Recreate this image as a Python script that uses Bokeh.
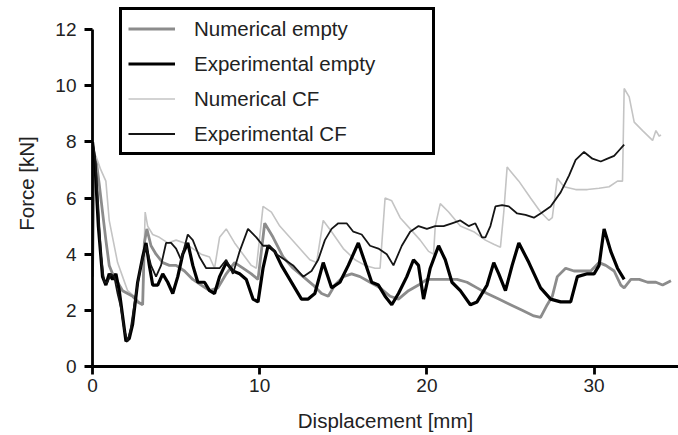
from bokeh.plotting import figure
from bokeh.models import Range1d, Legend, LegendItem, FixedTicker
from bokeh.embed import file_html
from bokeh.resources import INLINE

# Numerical empty (gray)
num_empty_x = [0.0, 0.1, 0.25, 0.4, 0.6, 0.8, 1.0, 1.2, 1.5, 1.8, 2.1, 2.4, 2.7, 3.0, 3.1, 3.25, 3.5, 3.8, 4.2, 4.6, 5.0, 5.5, 6.0, 6.5, 7.0, 7.5, 8.0, 8.5, 9.0, 9.5, 9.9, 10.3, 10.8, 11.4, 12.0, 12.6, 13.2, 13.7, 14.1, 14.5, 15.0, 15.5, 16.0, 16.6, 17.2, 17.8, 18.3, 18.9, 19.5, 20.0, 20.6, 21.2, 21.8, 22.4, 23.0, 23.6, 24.3, 25.0, 25.7, 26.4, 26.8, 27.2, 27.5, 27.8, 28.3, 28.8, 29.3, 29.8, 30.3, 30.7, 31.2, 31.6, 31.8, 32.2, 32.7, 33.2, 33.7, 34.1, 34.6]
num_empty_y = [3.2, 7.4, 7.2, 6.5, 5.5, 4.5, 3.6, 3.3, 3.0, 2.7, 2.6, 2.5, 2.3, 2.2, 4.4, 4.9, 4.3, 4.0, 3.7, 3.6, 3.6, 3.4, 3.1, 2.9, 2.7, 2.8, 3.3, 3.7, 3.5, 3.3, 3.1, 5.1, 4.6, 3.9, 3.5, 3.2, 2.9, 2.6, 2.5, 2.9, 3.2, 3.3, 3.2, 3.0, 2.8, 2.5, 2.4, 2.7, 2.9, 3.1, 3.1, 3.1, 3.1, 3.0, 2.8, 2.6, 2.4, 2.2, 2.0, 1.8, 1.75, 2.2, 2.5, 3.2, 3.5, 3.4, 3.4, 3.4, 3.7, 3.6, 3.4, 2.9, 2.8, 3.1, 3.1, 3.0, 3.0, 2.9, 3.05]

# Experimental empty (thick black)
exp_empty_x = [0.0, 0.15, 0.35, 0.6, 0.8, 1.0, 1.2, 1.4, 1.6, 1.8, 2.0, 2.2, 2.4, 2.7, 3.0, 3.2, 3.4, 3.6, 3.9, 4.2, 4.5, 4.8, 5.1, 5.4, 5.7, 6.0, 6.3, 6.7, 7.0, 7.3, 7.6, 8.0, 8.4, 8.8, 9.2, 9.6, 9.9, 10.2, 10.5, 10.9, 11.3, 11.7, 12.1, 12.5, 12.9, 13.3, 13.8, 14.3, 14.8, 15.3, 15.9, 16.3, 16.7, 17.1, 17.5, 17.9, 18.3, 18.8, 19.2, 19.5, 19.8, 20.2, 20.7, 21.1, 21.5, 22.0, 22.6, 23.0, 23.6, 24.0, 24.3, 24.7, 25.1, 25.5, 26.1, 26.8, 27.4, 28.0, 28.6, 29.0, 29.6, 30.0, 30.3, 30.6, 31.0, 31.4, 31.8]
exp_empty_y = [8.0, 7.2, 5.0, 3.2, 2.9, 3.3, 3.1, 3.3, 2.7, 1.8, 0.9, 1.0, 1.5, 3.0, 3.9, 4.4, 3.6, 2.9, 2.9, 3.3, 3.0, 2.6, 3.2, 4.0, 4.4, 3.6, 3.0, 3.0, 2.7, 2.6, 3.2, 3.7, 3.4, 3.3, 3.1, 2.4, 2.3, 3.5, 4.3, 4.1, 3.6, 3.2, 2.8, 2.4, 2.4, 2.6, 3.7, 2.8, 3.0, 3.6, 4.4, 3.7, 3.0, 2.9, 2.5, 2.2, 2.6, 3.2, 3.8, 3.6, 2.4, 3.5, 4.3, 3.8, 3.0, 2.7, 2.2, 2.3, 2.9, 3.7, 3.3, 2.7, 3.6, 4.4, 3.7, 2.8, 2.4, 2.3, 2.3, 3.2, 3.3, 3.3, 3.6, 4.9, 4.1, 3.5, 3.1]

# Numerical CF (light gray)
num_cf_x = [0.0, 0.05, 0.2, 0.5, 0.8, 1.0, 1.2, 1.5, 1.8, 2.1, 2.5, 2.8, 3.0, 3.15, 3.3, 3.6, 4.0, 4.5, 5.0, 5.5, 6.0, 6.5, 7.0, 7.3, 7.6, 8.0, 8.5, 9.0, 9.5, 9.8, 10.2, 10.7, 11.2, 11.8, 12.4, 13.0, 13.4, 13.8, 14.3, 15.0, 15.7, 16.3, 16.9, 17.2, 17.5, 17.9, 18.4, 19.0, 19.6, 20.1, 20.4, 20.5, 20.8, 21.3, 22.0, 22.8, 23.5, 24.0, 24.4, 24.6, 24.8, 25.5, 26.2, 26.8, 27.3, 27.5, 27.8, 28.2, 28.9, 29.6, 30.3, 30.9, 31.4, 31.7, 31.8, 32.1, 32.4, 32.9, 33.5, 33.7, 33.9, 34.0]
num_cf_y = [3.2, 7.0, 7.5, 7.0, 6.6, 5.2, 4.6, 3.7, 3.2, 2.7, 2.5, 2.3, 2.2, 5.5, 5.0, 4.7, 4.6, 4.4, 4.5, 4.4, 4.2, 4.0, 3.9, 3.5, 4.6, 4.9, 4.4, 4.0, 3.6, 3.5, 5.7, 5.5, 5.0, 4.6, 4.2, 3.8, 3.7, 5.2, 4.8, 4.2, 3.8, 3.6, 3.5, 3.5, 6.0, 5.9, 5.3, 4.9, 4.5, 4.1, 4.0, 5.0, 5.8, 5.5, 5.0, 4.8, 4.5, 4.35, 4.25, 5.5, 7.1, 6.6, 6.0, 5.5, 5.2, 5.3, 6.7, 6.4, 6.3, 6.3, 6.35, 6.4, 6.6, 6.6, 9.9, 9.6, 8.7, 8.4, 8.05, 8.4, 8.2, 8.25]

# Experimental CF (thin black)
exp_cf_x = [0.0, 0.15, 0.3, 0.5, 0.7, 0.9, 1.1, 1.3, 1.5, 1.7, 1.9, 2.1, 2.3, 2.6, 2.9, 3.2, 3.5, 3.8, 4.1, 4.4, 4.7, 5.0, 5.3, 5.7, 6.0, 6.4, 6.8, 7.2, 7.6, 8.0, 8.4, 8.8, 9.3, 9.8, 10.2, 10.6, 11.0, 11.5, 12.0, 12.6, 13.1, 13.5, 13.9, 14.3, 14.7, 15.2, 15.6, 16.1, 16.6, 17.1, 17.6, 18.0, 18.5, 19.0, 19.5, 20.0, 20.5, 21.0, 21.5, 22.0, 22.5, 22.9, 23.3, 23.5, 23.8, 24.1, 24.5, 24.9, 25.4, 25.9, 26.4, 26.8, 27.4, 28.0, 28.5, 28.9, 29.4, 29.9, 30.4, 30.8, 31.2, 31.5, 31.8]
exp_cf_y = [8.0, 7.5, 6.2, 4.0, 3.0, 3.0, 3.3, 3.2, 2.6, 2.1, 1.3, 0.9, 1.4, 2.6, 3.6, 4.3, 3.6, 3.2, 3.6, 4.4, 4.4, 4.2, 3.8, 4.7, 4.5, 3.9, 3.5, 3.5, 3.5, 3.8, 3.3, 4.1, 4.9, 4.6, 4.3, 4.3, 4.0, 3.8, 3.6, 3.2, 3.4, 3.8, 4.5, 4.9, 5.1, 5.1, 4.8, 4.7, 4.3, 4.2, 4.0, 3.6, 4.3, 4.8, 5.0, 4.9, 5.0, 5.0, 5.1, 5.2, 5.0, 5.1, 4.6, 4.6, 5.0, 5.7, 5.75, 5.7, 5.45, 5.4, 5.3, 5.45, 5.7, 6.2, 6.8, 7.36, 7.64, 7.4, 7.3, 7.4, 7.5, 7.7, 7.9]

x_ticks = [0, 10, 20, 30]
y_ticks = [0, 2, 4, 6, 8, 10, 12]

FONT = "Liberation Sans"

# frame: left 92, right 678, top 0, bottom 366; value 12 sits at pixel 29
Y_TOP = 12 * 366 / (366 - 29)

p = figure(width=678, height=435, output_backend="svg", toolbar_location=None,
           x_range=Range1d(0, 35.05), y_range=Range1d(0, Y_TOP),
           min_border_left=92, min_border_right=0, min_border_top=0, min_border_bottom=69)
p.outline_line_color = None
p.xgrid.visible = False
p.ygrid.visible = False
p.background_fill_color = "white"

r_ncf = p.line(num_cf_x, num_cf_y, line_color="#c4c4c4", line_width=1.6)
r_ne = p.line(num_empty_x, num_empty_y, line_color="#8c8c8c", line_width=2.8)
r_ee = p.line(exp_empty_x, exp_empty_y, line_color="#000000", line_width=3.2)
r_ecf = p.line(exp_cf_x, exp_cf_y, line_color="#151515", line_width=1.8)

for ax in (p.xaxis[0], p.yaxis[0]):
    ax.axis_line_width = 2.8
    ax.axis_line_color = "black"
    ax.major_tick_line_width = 2.8
    ax.major_tick_line_color = "black"
    ax.major_tick_out = 8
    ax.major_tick_in = 0
    ax.minor_tick_line_color = None
    ax.major_label_text_font = FONT
    ax.major_label_text_font_size = "19px"
    ax.major_label_text_color = "#222222"
    ax.axis_label_text_font = FONT
    ax.axis_label_text_font_size = "20.5px"
    ax.axis_label_text_font_style = "normal"
    ax.axis_label_text_color = "#222222"

p.xaxis.ticker = FixedTicker(ticks=x_ticks)
p.yaxis.ticker = FixedTicker(ticks=y_ticks)
p.yaxis.bounds = (0, 12)
p.xaxis.axis_label = "Displacement [mm]"
p.yaxis.axis_label = "Force [kN]"
p.xaxis.major_label_standoff = 4
p.yaxis.major_label_standoff = 8
p.xaxis.axis_label_standoff = 14
p.yaxis.axis_label_standoff = 14

legend = Legend(items=[
    LegendItem(label="Numerical empty", renderers=[r_ne]),
    LegendItem(label="Experimental empty", renderers=[r_ee]),
    LegendItem(label="Numerical CF", renderers=[r_ncf]),
    LegendItem(label="Experimental CF", renderers=[r_ecf]),
], location=(27, 211))
legend.border_line_color = "black"
legend.border_line_width = 3
legend.border_line_alpha = 1.0
legend.background_fill_color = "white"
legend.background_fill_alpha = 1.0
legend.padding = 6
legend.spacing = 10
legend.glyph_width = 47
legend.glyph_height = 25
legend.label_height = 25
legend.label_standoff = 19
legend.label_width = 232
legend.label_text_font = FONT
legend.label_text_font_size = "20.5px"
legend.label_text_color = "#222222"
legend.margin = 0
p.add_layout(legend, "center")

open("out.html", "w").write(file_html(p, INLINE))
